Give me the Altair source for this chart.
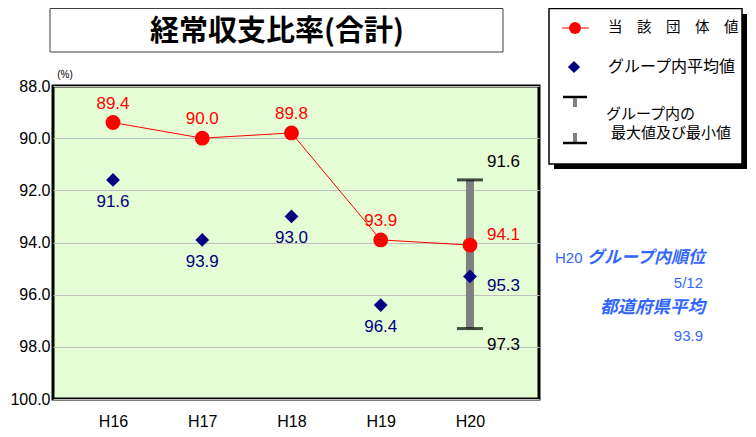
import altair as alt
import pandas as pd

# ---- data ----
years = ["H16", "H17", "H18", "H19", "H20"]
own_values = [89.4, 90.0, 89.8, 93.9, 94.1]          # 当該団体値
group_avg = [91.6, 93.9, 93.0, 96.4, 95.3]           # グループ内平均値
range_year = ["H20"]
group_max = [91.6]                                   # グループ内の最大値(上端)
group_min = [97.3]                                   # グループ内の最小値(下端)
y_ticks = [88, 90, 92, 94, 96, 98, 100]
rank_text = "5/12"
pref_avg_text = "93.9"

df = pd.DataFrame({"year": years, "own": own_values, "avg": group_avg})
df_rng = pd.DataFrame({"year": range_year, "hi": group_max, "lo": group_min})
df_caps = pd.DataFrame({"year": range_year * 2, "v": group_max + group_min,
                        "kind": ["max", "min"]})

NUM_FONT = "Liberation Sans"
JP_FONT = "Noto Sans CJK JP"
RED = "#FF0000"
NAVY = "#000080"
BLUE_TXT = "#3366FF"

xenc = alt.X("year:N", sort=years,
             scale=alt.Scale(type="point", domain=years, padding=0.723, align=0.465),
             axis=alt.Axis(title=None, labelAngle=0, ticks=False, domain=False,
                           labelFont=NUM_FONT, labelFontSize=16, labelColor="black",
                           labelBaseline="alphabetic", labelPadding=27))
yscale = alt.Scale(domain=[88, 100], reverse=True, nice=False, zero=False)
yaxis = alt.Axis(title=None, values=y_ticks, format=".1f", grid=True,
                 gridColor="#C0C0C0", gridWidth=1, domain=False, ticks=False,
                 labelFont=NUM_FONT, labelFontSize=16, labelColor="black",
                 labelPadding=3)

base = alt.Chart(df)
early = base.transform_filter(alt.datum.year != "H20")
last = base.transform_filter(alt.datum.year == "H20")

# error range bar
rng = alt.Chart(df_rng).mark_rule(color="#808080", size=8).encode(
    x=xenc, y=alt.Y("hi:Q", scale=yscale, axis=yaxis), y2="lo:Q")
caps = alt.Chart(df_caps).mark_tick(color="black", thickness=3, size=26).encode(
    x=xenc, y=alt.Y("v:Q", scale=yscale))

line = base.mark_line(color=RED, strokeWidth=1).encode(
    x=xenc, y=alt.Y("own:Q", scale=yscale))
pts = base.mark_point(shape="circle", filled=True, color=RED, size=220, opacity=1).encode(
    x=xenc, y=alt.Y("own:Q", scale=yscale))
dia = base.mark_point(shape="diamond", filled=True, color=NAVY, size=190, opacity=1).encode(
    x=xenc, y=alt.Y("avg:Q", scale=yscale))

lbl_own = early.mark_text(color=RED, font=NUM_FONT, fontSize=17, dy=-19).encode(
    x=xenc, y=alt.Y("own:Q", scale=yscale), text=alt.Text("own:Q", format=".1f"))
lbl_avg = early.mark_text(color=NAVY, font=NUM_FONT, fontSize=17, dy=22).encode(
    x=xenc, y=alt.Y("avg:Q", scale=yscale), text=alt.Text("avg:Q", format=".1f"))
lbl_own20 = last.mark_text(color=RED, font=NUM_FONT, fontSize=17, align="left",
                           dx=17, dy=-10).encode(
    x=xenc, y=alt.Y("own:Q", scale=yscale), text=alt.Text("own:Q", format=".1f"))
lbl_avg20 = last.mark_text(color=NAVY, font=NUM_FONT, fontSize=17, align="left",
                           dx=17, dy=10).encode(
    x=xenc, y=alt.Y("avg:Q", scale=yscale), text=alt.Text("avg:Q", format=".1f"))
lbl_hi = alt.Chart(df_rng).mark_text(color="black", font=NUM_FONT, fontSize=17,
                                     align="left", dx=17, dy=-18).encode(
    x=xenc, y=alt.Y("hi:Q", scale=yscale), text=alt.Text("hi:Q", format=".1f"))
lbl_lo = alt.Chart(df_rng).mark_text(color="black", font=NUM_FONT, fontSize=17,
                                     align="left", dx=17, dy=16).encode(
    x=xenc, y=alt.Y("lo:Q", scale=yscale), text=alt.Text("lo:Q", format=".1f"))

# ---- decorations (pixel positioned, relative to plot origin) ----
one = pd.DataFrame({"k": [0]})


def rect(x, x2, y, y2, **kw):
    return alt.Chart(one).mark_rect(**kw).encode(
        x=alt.value(x), x2=alt.value(x2), y=alt.value(y), y2=alt.value(y2))


def txt(s, x, y, **kw):
    return alt.Chart(one).mark_text(text=s, **kw).encode(
        x=alt.value(x), y=alt.value(y))


def hline(x, x2, y, color, w):
    return alt.Chart(one).mark_rule(color=color, strokeWidth=w).encode(
        x=alt.value(x), x2=alt.value(x2), y=alt.value(y))


def vline(x, y, y2, color, w):
    return alt.Chart(one).mark_rule(color=color, strokeWidth=w).encode(
        x=alt.value(x), y=alt.value(y), y2=alt.value(y2))


title_box = rect(-3, 450, -77.5, -34, fill="white", stroke="#404040", strokeWidth=1)
title_txt = txt("経常収支比率(合計)", 224, -54, font=JP_FONT, fontSize=29,
                fontWeight="bold", color="black", baseline="middle")
unit_txt = txt("(%)", 12, -11, font=NUM_FONT, fontSize=10, color="black",
               baseline="middle")

leg_shadow = rect(501, 694, -72, 83, fill="black")
leg_box = rect(496, 689, -77.5, 78, fill="white", stroke="black", strokeWidth=1.5)
leg_line = hline(509, 536, -58, RED, 1)
leg_circ = alt.Chart(one).mark_point(shape="circle", filled=True, color=RED,
                                     size=140, opacity=1).encode(
    x=alt.value(522), y=alt.value(-58))
leg_t1 = txt("当　該　団　体　値", 555, -58, font=JP_FONT, fontSize=14.5,
             color="black", align="left", baseline="middle")
leg_dia = alt.Chart(one).mark_point(shape="diamond", filled=True, color=NAVY,
                                    size=150, opacity=1).encode(
    x=alt.value(521), y=alt.value(-19))
leg_t2 = txt("グループ内平均値", 555, -19, font=JP_FONT, fontSize=16,
             color="black", align="left", baseline="middle")
leg_cap1 = hline(510, 534, 11, "black", 2.5)
leg_stub1 = vline(522, 12, 21, "#808080", 4)
leg_stub2 = vline(522, 47, 56, "#808080", 4)
leg_cap2 = hline(510, 534, 57, "black", 2.5)
leg_t3 = txt("グループ内の", 553, 28, font=JP_FONT, fontSize=15, color="black",
             align="left", baseline="middle")
leg_t4 = txt("最大値及び最小値", 558, 47, font=JP_FONT, fontSize=15, color="black",
             align="left", baseline="middle")

side1a = txt("H20", 502, 172, font=NUM_FONT, fontSize=15, color=BLUE_TXT,
             align="left", baseline="middle")
side1b = txt("グループ内順位", 652, 172, font=JP_FONT, fontSize=17,
             fontWeight="bold", fontStyle="italic", color=BLUE_TXT,
             align="right", baseline="middle")
side2 = txt(rank_text, 650, 197, font=NUM_FONT, fontSize=15, color=BLUE_TXT,
            align="right", baseline="middle")
side3 = txt("都道府県平均", 652, 222, font=JP_FONT, fontSize=17.5,
            fontWeight="bold", fontStyle="italic", color=BLUE_TXT,
            align="right", baseline="middle")
side4 = txt(pref_avg_text, 650, 250, font=NUM_FONT, fontSize=15, color=BLUE_TXT,
            align="right", baseline="middle")

chart = alt.layer(
    rng, caps, line, pts, dia,
    lbl_own, lbl_avg, lbl_own20, lbl_avg20, lbl_hi, lbl_lo,
    title_box, title_txt, unit_txt,
    leg_shadow, leg_box, leg_line, leg_circ, leg_t1, leg_dia, leg_t2,
    leg_cap1, leg_stub1, leg_stub2, leg_cap2, leg_t3, leg_t4,
    side1a, side1b, side2, side3, side4,
).properties(
    width=486, height=313,
    autosize=alt.AutoSizeParams(type="none"),
    padding={"left": 45, "top": 78, "right": 209, "bottom": 30},
    background="white",
).configure_view(
    fill="#E5FDD5", stroke="black", strokeWidth=3
)

chart.save("out.html", embed_options={"renderer": "svg", "actions": False})
